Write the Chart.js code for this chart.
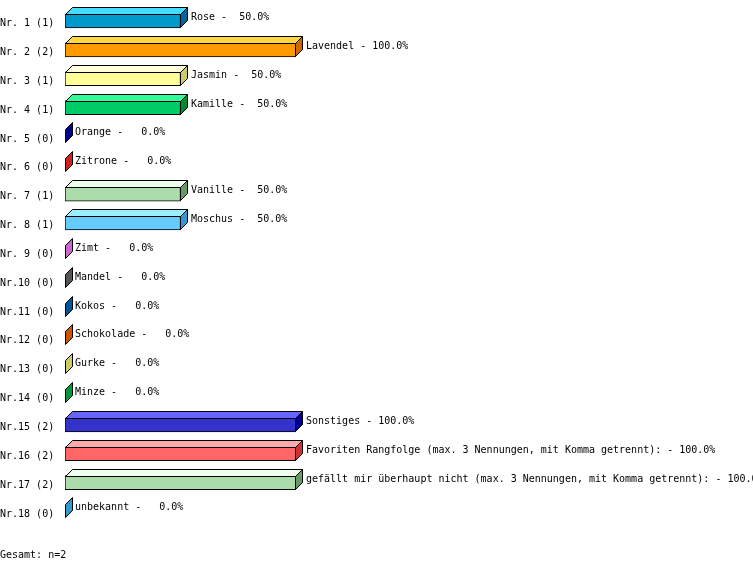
<!DOCTYPE html>
<html>
<head>
<meta charset="utf-8">
<script src="https://cdn.jsdelivr.net/npm/chart.js@4/dist/chart.umd.min.js"></script>
<style>
  html, body { margin: 0; padding: 0; background: #fff; }
  #wrap { width: 753px; height: 571px; }
</style>
</head>
<body>
<div id="wrap"><canvas id="chart" width="753" height="571"></canvas></div>
<script>
// ---- data ----
const names = [
  "Rose", "Lavendel", "Jasmin", "Kamille", "Orange", "Zitrone", "Vanille",
  "Moschus", "Zimt", "Mandel", "Kokos", "Schokolade", "Gurke", "Minze",
  "Sonstiges",
  "Favoriten Rangfolge (max. 3 Nennungen, mit Komma getrennt):",
  "gefällt mir überhaupt nicht (max. 3 Nennungen, mit Komma getrennt):",
  "unbekannt"
];
const counts = [1, 2, 1, 1, 0, 0, 1, 1, 0, 0, 0, 0, 0, 0, 2, 2, 2, 0];
const percents = [50, 100, 50, 50, 0, 0, 50, 50, 0, 0, 0, 0, 0, 0, 100, 100, 100, 0];
const total = 2;
const tickLabels = counts.map((c, i) => "Nr." + String(i + 1).padStart(2, " ") + " (" + c + ")");

// ---- colours (front / top / side of each block) ----
const frontColors = [
  "#0099cc", "#ff9900", "#ffff99", "#00cc66", "#0000cc", "#ee3333", "#aaddaa",
  "#66ccff", "#ee88ee", "#777777", "#0077bb", "#ee7700", "#eeee88", "#00bb44",
  "#3333cc", "#ff6666", "#aaddaa", "#44aadd"
];
const topColors = [
  "#44ddff", "#ffd740", "#ffffdd", "#33ff99", "#4444ff", "#ff7777", "#eeffee",
  "#99eeff", "#ffbbff", "#aaaaaa", "#33aaee", "#ffaa44", "#ffffbb", "#33ee77",
  "#6666ff", "#ffaaaa", "#eeffee", "#88ddff"
];
const sideColors = [
  "#006699", "#cc6600", "#cccc66", "#008833", "#000088", "#cc2222", "#669966",
  "#3399cc", "#cc66cc", "#555555", "#005599", "#cc5500", "#cccc66", "#009933",
  "#000099", "#cc3333", "#669966", "#3399cc"
];

const DEPTH = 7;
const FONT = "'DejaVu Sans Mono', monospace";

/* =========================================
   PLUGIN: 3D faces + value labels
   ========================================= */
const blockPlugin = {
  id: "blocks",
  afterDatasetsDraw(chart) {
    const ctx = chart.ctx;
    const meta = chart.getDatasetMeta(0);
    ctx.save();
    ctx.lineWidth = 1;
    ctx.strokeStyle = "#000";
    meta.data.forEach((bar, i) => {
      const x0 = Math.round(bar.base);
      const x1 = Math.round(bar.x);
      const top = Math.round(bar.y - bar.height / 2);
      const bot = Math.round(bar.y + bar.height / 2);
      const d = DEPTH;

      // top face
      if (x1 > x0) {
        ctx.beginPath();
        ctx.moveTo(x0 + 0.5, top + 0.5);
        ctx.lineTo(x0 + d + 0.5, top - d + 0.5);
        ctx.lineTo(x1 + d - 0.5, top - d + 0.5);
        ctx.lineTo(x1 - 0.5, top + 0.5);
        ctx.closePath();
        ctx.fillStyle = topColors[i];
        ctx.fill();
        ctx.stroke();
      }

      // side face
      const sx = x1 > x0 ? x1 - 0.5 : x1 + 0.5;
      ctx.beginPath();
      ctx.moveTo(sx, top + 0.5);
      ctx.lineTo(sx + d, top - d + 0.5);
      ctx.lineTo(sx + d, bot - d - 0.5);
      ctx.lineTo(sx, bot - 0.5);
      ctx.closePath();
      ctx.fillStyle = sideColors[i];
      ctx.fill();
      ctx.stroke();

      // label
      ctx.fillStyle = "#000";
      ctx.font = "10px " + FONT;
      ctx.textAlign = "left";
      ctx.textBaseline = "alphabetic";
      const txt = names[i] + " - " + percents[i].toFixed(1).padStart(5, " ") + "%";
      ctx.fillText(txt, x1 + d + 3, bar.y - 1);
    });

    // total
    ctx.fillText("Gesamt: n=" + total, 0, 558);
    ctx.restore();
  }
};

Chart.defaults.font.family = FONT;
Chart.defaults.font.size = 10;
Chart.defaults.color = "#000";

new Chart(document.getElementById("chart"), {
  type: "bar",
  data: {
    labels: tickLabels,
    datasets: [{
      data: percents,
      backgroundColor: frontColors,
      borderColor: "#000",
      borderWidth: 1,
      borderSkipped: false,
      barThickness: 14
    }]
  },
  options: {
    indexAxis: "y",
    responsive: false,
    animation: false,
    devicePixelRatio: 1,
    layout: { padding: { top: 6.6, bottom: 45.1, left: 0, right: 457 } },
    plugins: {
      legend: { display: false },
      tooltip: { enabled: false }
    },
    scales: {
      x: { display: false, min: 0, max: 100 },
      y: {
        grid: { display: false },
        border: { display: false },
        ticks: { crossAlign: "far", padding: 0, labelOffset: 2.5, autoSkip: false },
        afterFit(scale) { scale.width = 65; }
      }
    }
  },
  plugins: [blockPlugin]
});
</script>
</body>
</html>
